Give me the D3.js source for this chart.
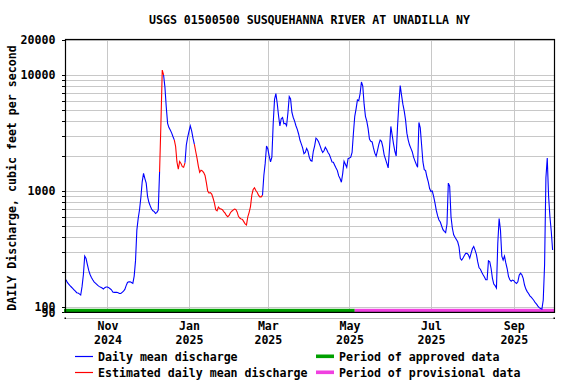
<!DOCTYPE html>
<html>
<head>
<meta charset="utf-8">
<script src="https://cdn.jsdelivr.net/npm/d3@7"></script>
<style>
  body { margin: 0; background: #fff; }
  svg text { font-family: "DejaVu Sans Mono", monospace; font-weight: bold; font-size: 11.6px; fill: #000; }
</style>
</head>
<body>
<svg id="chart" width="576" height="384"></svg>
<script>
// daily mean discharge (cfs), water year 2025, one value per day from startDate
const startDate = "2024-10-01";
const dailyMean = [
  172, 163, 158, 153, 149, 145, 141, 137, 133, 132, 130, 127, 150, 190, 275, 262, 232, 207, 191, 180,
  172, 165, 161, 157, 153, 150, 148, 146, 143, 147, 149, 149, 147, 144, 141, 135, 134, 134, 134, 133,
  131, 131, 134, 137, 142, 153, 163, 165, 165, 163, 160, 185, 250, 460, 580, 690, 880, 1200, 1420, 1280,
  1170, 900, 800, 745, 700, 675, 665, 640, 655, 685, 1460, 3800, 11000, 10000, 7850, 5300, 3830, 3520, 3350, 3170,
  2950, 2760, 2420, 1780, 1540, 1800, 1730, 1620, 1600, 1750, 2490, 2900, 3270, 3640, 3300, 2850, 2530, 2200, 1920, 1640,
  1450, 1510, 1490, 1440, 1360, 1180, 1000, 960, 970, 940, 870, 790, 690, 675, 728, 705, 700, 690, 665, 645,
  615, 600, 615, 650, 670, 685, 700, 695, 660, 605, 585, 575, 570, 545, 520, 510, 600, 655, 735, 920,
  1030, 1065, 1010, 975, 920, 890, 890, 920, 1360, 1730, 2440, 2300, 2000, 1780, 1960, 3830, 6150, 6900, 5700, 4450,
  3630, 4200, 4300, 3800, 3830, 3650, 4700, 6500, 6200, 4750, 4300, 4000, 3650, 3400, 3100, 2750, 2550, 2350, 2100, 2150,
  2330, 2200, 1950, 1830, 1810, 2200, 2450, 2850, 2780, 2640, 2460, 2280, 2150, 2220, 2380, 2280, 2150, 2060, 1920, 1780,
  1770, 1670, 1580, 1500, 1350, 1280, 1190, 1420, 1800, 1700, 1600, 1900, 1920, 1960, 2150, 3150, 4400, 5100, 6100, 6000,
  6900, 8700, 8000, 5600, 4400, 4000, 3450, 2800, 2680, 2650, 2350, 2120, 2000, 2230, 2520, 2750, 2680, 2400, 2050, 1880,
  1730, 1580, 2330, 3600, 3030, 2550, 2200, 2000, 3600, 5600, 8100, 6700, 5600, 4900, 4100, 3150, 2750, 2490, 2330, 2180,
  1960, 1820, 1700, 1600, 3900, 3500, 2500, 1780, 1530, 1500, 1320, 1200, 1050, 990, 1000, 900, 790, 680, 610, 563,
  540, 500, 465, 450, 438, 520, 1170, 1100, 600, 480, 420, 400, 382, 365, 330, 262, 254, 265, 278, 290,
  290, 282, 263, 290, 318, 333, 310, 285, 245, 218, 212, 200, 190, 182, 172, 172, 250, 245, 215, 177,
  158, 153, 146, 355, 580, 460, 275, 254, 275, 240, 215, 184, 172, 167, 171, 169, 163, 160, 165, 188,
  196, 190, 177, 155, 143, 136, 131, 125, 122, 118, 114, 109, 106, 102, 99, 97, 96, 115, 230, 1300,
  1920, 900, 600, 450, 310
];
const estimatedRanges = [
  ["2024-12-11", "2024-12-12"],
  ["2024-12-22", "2024-12-28"],
  ["2025-01-06", "2025-02-24"]
];
const provisionalStart = "2025-05-05";
const yLabelValues = [20000, 10000, 1000, 100, 90];
const gridValues = [100, 200, 300, 400, 500, 600, 700, 800, 900,
  1000, 2000, 3000, 4000, 5000, 6000, 7000, 8000, 9000, 10000, 20000];
const monthTicks = ["2024-11-01", "2025-01-01", "2025-03-01", "2025-05-01", "2025-07-01", "2025-09-01"];
const monthLabels = [["Nov", "2024"], ["Jan", "2025"], ["Mar", "2025"], ["May", "2025"], ["Jul", "2025"], ["Sep", "2025"]];

const svg = d3.select("#chart");
const parse = d3.utcParse("%Y-%m-%d");
const plotLeft = 65, plotRight = 554, plotTop = 40, plotBottom = 312.4;

const start = parse(startDate);
const days = dailyMean.map((v, i) => ({ date: d3.utcDay.offset(start, i), value: v }));
const ranges = estimatedRanges.map((r) => [parse(r[0]), parse(r[1])]);
days.forEach((d) => {
  d.est = ranges.some((r) => d.date >= r[0] && d.date <= r[1]);
});

const x = d3.scaleUtc()
  .domain([start, days[days.length - 1].date])
  .range([66, 552.6]);
const y = d3.scaleLog().domain([90, 20000]).range([plotBottom, plotTop]);

// title
svg.append("text")
  .attr("x", (plotLeft + plotRight) / 2)
  .attr("y", 24)
  .attr("text-anchor", "middle")
  .text("USGS 01500500 SUSQUEHANNA RIVER AT UNADILLA NY");

// y axis title
svg.append("text")
  .attr("transform", "translate(15.5,178) rotate(-90)")
  .attr("text-anchor", "middle")
  .text("DAILY Discharge, cubic feet per second");

// grid
const grid = svg.append("g").attr("shape-rendering", "crispEdges");
grid.selectAll("line.h")
  .data(gridValues)
  .join("line")
  .attr("class", "h")
  .attr("x1", plotLeft).attr("x2", plotRight)
  .attr("y1", (d) => Math.round(y(d)) + 0.5)
  .attr("y2", (d) => Math.round(y(d)) + 0.5)
  .attr("stroke", "#c8c8c8");

grid.selectAll("line.v")
  .data(monthTicks)
  .join("line")
  .attr("class", "v")
  .attr("x1", (d) => Math.round(x(parse(d))) + 0.5)
  .attr("x2", (d) => Math.round(x(parse(d))) + 0.5)
  .attr("y1", plotTop).attr("y2", plotBottom)
  .attr("stroke", "#c8c8c8");

// small ticks left of the frame
grid.selectAll("line.t")
  .data(gridValues.concat([90]))
  .join("line")
  .attr("class", "t")
  .attr("x1", plotLeft - 3).attr("x2", plotLeft)
  .attr("y1", (d) => Math.round(y(d)) + 0.5)
  .attr("y2", (d) => Math.round(y(d)) + 0.5)
  .attr("stroke", "#000");

// approved / provisional bar
const provDate = parse(provisionalStart);
svg.append("rect")
  .attr("x", plotLeft - 1).attr("y", plotBottom - 3.6)
  .attr("width", x(provDate) - plotLeft + 1).attr("height", 3.6)
  .attr("fill", "#00a000");
svg.append("rect")
  .attr("x", x(provDate)).attr("y", plotBottom - 3.6)
  .attr("width", plotRight - x(provDate)).attr("height", 3.6)
  .attr("fill", "#f040e0");

// discharge line, split into blue/red runs
const runs = [];
for (let i = 0; i < days.length - 1; i++) {
  const red = days[i].est || days[i + 1].est;
  const last = runs[runs.length - 1];
  if (last && last.red === red) {
    last.pts.push(days[i + 1]);
  } else {
    runs.push({ red, pts: [days[i], days[i + 1]] });
  }
}
const line = d3.line().x((d) => x(d.date)).y((d) => y(d.value));
svg.append("g")
  .selectAll("path")
  .data(runs)
  .join("path")
  .attr("d", (r) => line(r.pts))
  .attr("fill", "none")
  .attr("stroke", (r) => (r.red ? "#ff0000" : "#0000ff"))
  .attr("stroke-width", 1.1);

// frame
svg.append("rect")
  .attr("x", plotLeft + 0.5).attr("y", plotTop - 0.5)
  .attr("width", plotRight - plotLeft).attr("height", plotBottom - plotTop + 0.5)
  .attr("fill", "none")
  .attr("stroke", "#000")
  .attr("stroke-width", 1.2);

// y labels
svg.selectAll("text.ylab")
  .data(yLabelValues)
  .join("text")
  .attr("class", "ylab")
  .attr("x", 55.5)
  .attr("y", (d) => y(d) + 4.2)
  .attr("text-anchor", "end")
  .text((d) => d);

// lower axis line
svg.append("line")
  .attr("x1", plotLeft).attr("x2", plotRight + 1)
  .attr("y1", 318.5).attr("y2", 318.5)
  .attr("stroke", "#c0c0c0");
svg.selectAll("rect.endtick")
  .data([plotLeft, plotRight])
  .join("rect")
  .attr("class", "endtick")
  .attr("x", (d) => d - 0.5).attr("y", 317.5)
  .attr("width", 1.5).attr("height", 1.5)
  .attr("fill", "#000");

// month labels
const mlab = svg.selectAll("g.mlab")
  .data(monthTicks)
  .join("g")
  .attr("class", "mlab")
  .attr("transform", (d) => `translate(${x(parse(d)) + 0.5},0)`);
mlab.append("text").attr("y", 330).attr("text-anchor", "middle").text((d, i) => monthLabels[i][0]);
mlab.append("text").attr("y", 343.5).attr("text-anchor", "middle").text((d, i) => monthLabels[i][1]);

// legend
const legendRows = [
  { label: "Daily mean discharge", color: "#0000ff", kind: "line", x: 75, y: 356.5 },
  { label: "Estimated daily mean discharge", color: "#ff0000", kind: "line", x: 75, y: 372.5 },
  { label: "Period of approved data", color: "#00a000", kind: "bar", x: 316, y: 356.5 },
  { label: "Period of provisional data", color: "#f040e0", kind: "bar", x: 316, y: 372.5 }
];
const leg = svg.selectAll("g.leg")
  .data(legendRows)
  .join("g")
  .attr("class", "leg");
leg.filter((d) => d.kind === "line").append("line")
  .attr("x1", (d) => d.x).attr("x2", (d) => d.x + 18)
  .attr("y1", (d) => d.y).attr("y2", (d) => d.y)
  .attr("stroke", (d) => d.color).attr("stroke-width", 1.2);
leg.filter((d) => d.kind === "bar").append("rect")
  .attr("x", (d) => d.x).attr("y", (d) => d.y - 2)
  .attr("width", 18).attr("height", 3.6)
  .attr("fill", (d) => d.color);
leg.append("text")
  .attr("x", (d) => d.x + 23)
  .attr("y", (d) => d.y + 4)
  .text((d) => d.label);
</script>
</body>
</html>
